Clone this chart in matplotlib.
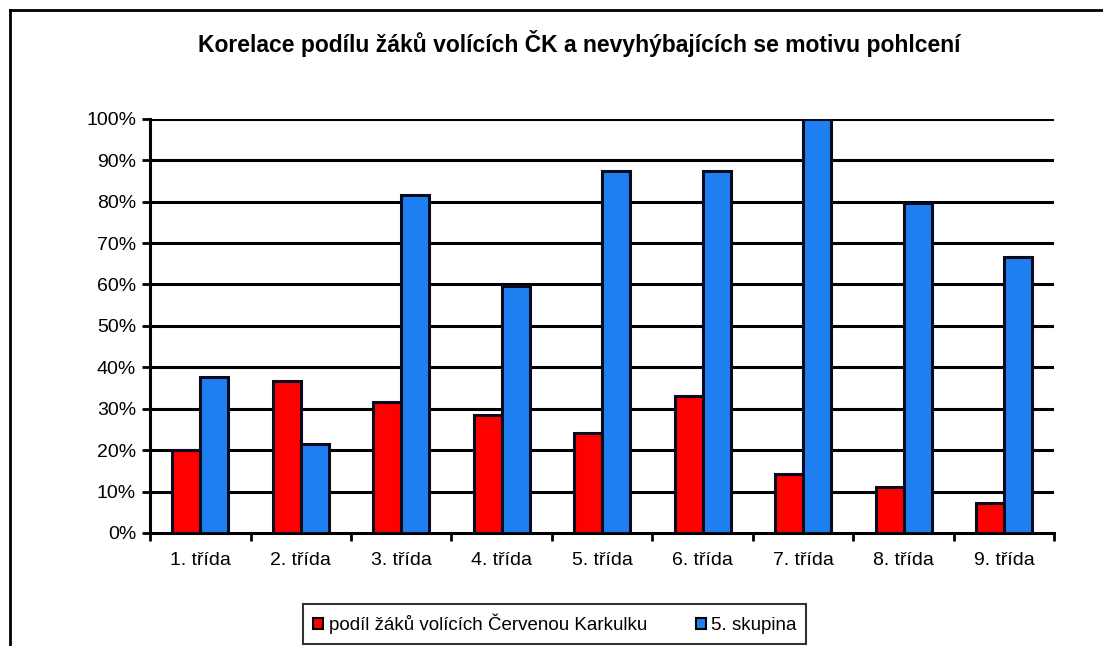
import matplotlib
matplotlib.use("Agg")
import matplotlib.pyplot as plt
from matplotlib.patches import Patch
from matplotlib.lines import Line2D
import numpy as np

categories = ["1. třída", "2. třída", "3. třída", "4. třída", "5. třída",
              "6. třída", "7. třída", "8. třída", "9. třída"]
podil_ck = [20, 36.8, 31.7, 28.5, 24.2, 33.0, 14.3, 11.2, 7.3]
skupina5 = [37.6, 21.4, 81.6, 59.6, 87.3, 87.4, 100, 79.8, 66.7]
yticks = [0, 10, 20, 30, 40, 50, 60, 70, 80, 90, 100]
ytick_labels = [f"{v}%" for v in yticks]
series_names = ["podíl žáků volících Červenou Karkulku", "5. skupina"]
title = "Korelace podílu žáků volících ČK a nevyhýbajících se motivu pohlcení"

plt.rcParams['font.family'] = ['Liberation Sans', 'DejaVu Sans']

fig = plt.figure(figsize=(11.03, 6.46), dpi=100)
ax = fig.add_axes([0.136, 0.175, 0.820, 0.641])

x = np.arange(len(categories))
w = 0.28
red = "#FF0000"
blue = "#1E80F0"
ax.bar(x - w / 2, podil_ck, w, color=red, edgecolor="#0a0a1e", linewidth=2.2, zorder=3)
ax.bar(x + w / 2, skupina5, w, color=blue, edgecolor="#0a0a1e", linewidth=2.2, zorder=3)

ax.set_xlim(-0.5, len(categories) - 0.5)
ax.set_ylim(0, 100)
ax.set_yticks(yticks)
ax.set_yticklabels(ytick_labels, fontsize=14)
ax.set_xticks(x)
ax.set_xticklabels(categories, fontsize=14)
ax.tick_params(axis='x', length=0, pad=14)
ax.set_xticks(np.arange(-0.5, len(categories), 1), minor=True)
ax.tick_params(axis='x', which='minor', length=6, width=2, direction='out')
ax.tick_params(axis='y', length=6, width=2, direction='out', pad=4)

for v in yticks[1:]:
    ax.axhline(v, color="black", linewidth=2.2, zorder=1)

for s in ["top", "right"]:
    ax.spines[s].set_visible(False)
ax.spines["left"].set_linewidth(2.2)
ax.spines["bottom"].set_linewidth(2.2)

fig.text(0.525, 0.933, title, ha="center", va="center", fontsize=16.5, fontweight="bold")

handles = [Patch(facecolor=red, edgecolor="black", linewidth=1.5),
           Patch(facecolor=blue, edgecolor="black", linewidth=1.5)]
leg = fig.legend(handles, series_names, loc="center", bbox_to_anchor=(0.503, 0.034),
                 ncol=2, fontsize=13.5, frameon=True, fancybox=False,
                 handlelength=0.55, handleheight=0.55, handletextpad=0.3,
                 columnspacing=2.6, borderpad=0.5)
leg.get_frame().set_edgecolor("black")
leg.get_frame().set_linewidth(1.5)

# outer chart border
fig.add_artist(Line2D([0.009, 1.0], [0.985, 0.985], transform=fig.transFigure,
                      color="black", linewidth=2))
fig.add_artist(Line2D([0.009, 0.009], [0.0, 0.985], transform=fig.transFigure,
                      color="black", linewidth=2))

fig.savefig("out.png", dpi=100)
